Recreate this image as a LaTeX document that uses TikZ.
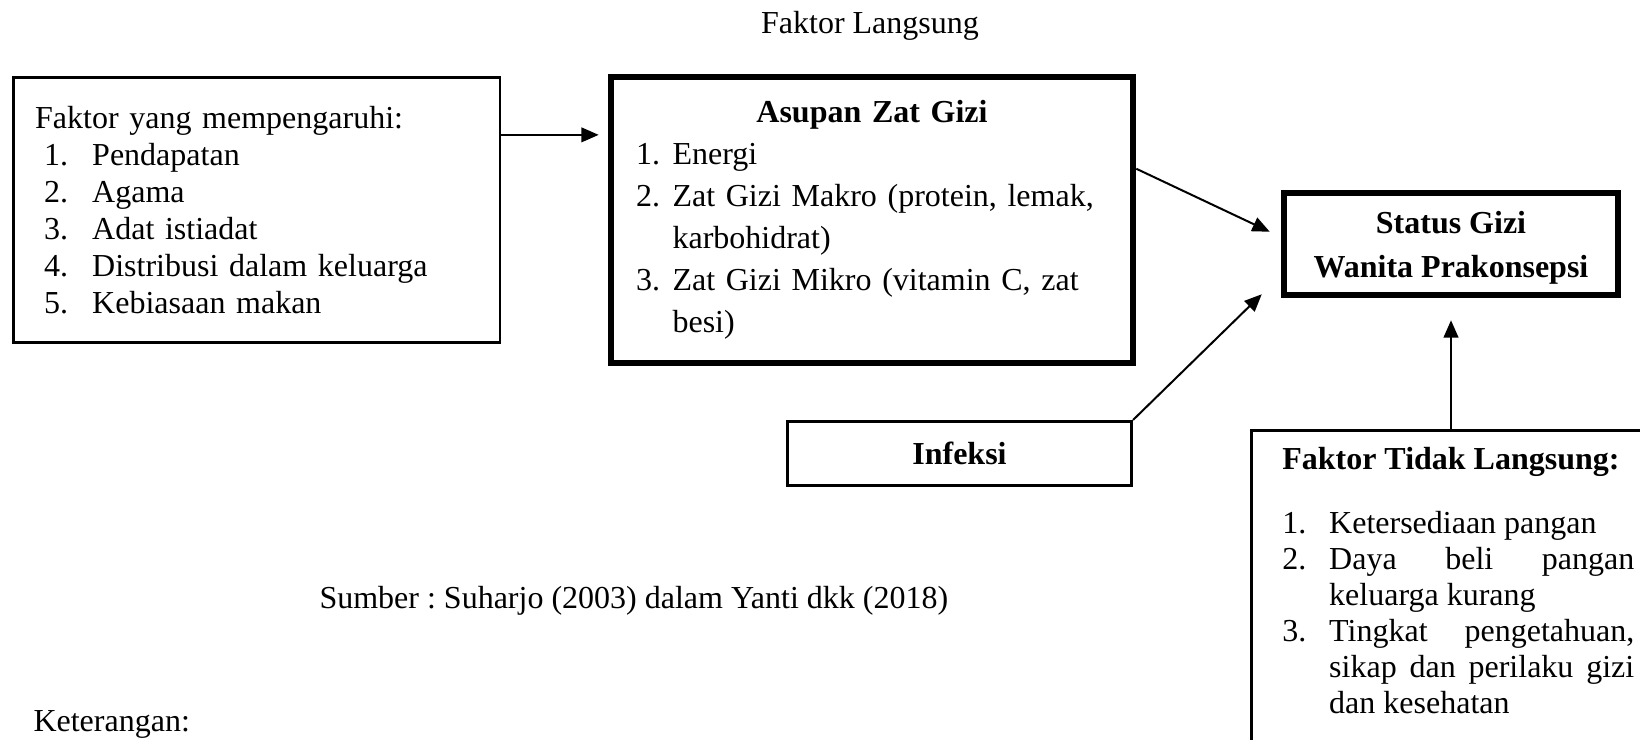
\documentclass[tikz,border=0pt]{standalone}
\usepackage{fontspec}
\setmainfont{Liberation Serif}
\usetikzlibrary{positioning,arrows.meta,calc}
\frenchspacing
\newcommand{\nitem}[4]{\par\hangindent=\dimexpr#1+#2\relax\hangafter=1\noindent\hspace*{#1}\makebox[#2][l]{#3}#4}

\begin{document}
\begin{tikzpicture}[
        x=0.375pt, y=-0.375pt,
        font=\fontsize{12pt}{14pt}\selectfont,
        thinbox/.style={draw, line width=1pt, inner sep=0pt},
        thickbox/.style={draw, line width=2.4pt, inner sep=0pt},
        arr/.style={-{Triangle[length=6.5pt,width=5.5pt]}, line width=0.75pt},
        caption/.style={inner sep=0pt}
    ]
    \useasboundingbox (0,0) rectangle (1640,739);
    \clip (0,0) rectangle (1640,739);

    \node[caption, anchor=base] (judul) at (870,33) {Faktor Langsung};

    % Boxes
    \node[thinbox, minimum width=182.5pt, minimum height=99.6pt, text width=166pt, align=left,
          font=\fontsize{12pt}{13.9pt}\selectfont] (faktor) at (256.5,210)
        {Faktor yang mempengaruhi:
         \nitem{3.4pt}{18pt}{1.}{Pendapatan}
         \nitem{3.4pt}{18pt}{2.}{Agama}
         \nitem{3.4pt}{18pt}{3.}{Adat istiadat}
         \nitem{3.4pt}{18pt}{4.}{Distribusi dalam keluarga}
         \nitem{3.4pt}{18pt}{5.}{Kebiasaan makan}\par};
    \node[thickbox, minimum width=195.8pt, minimum height=107.3pt, text width=177pt, align=left,
          font=\fontsize{12pt}{15.75pt}\selectfont] (asupan) at (872,220)
        {{\centering\bfseries Asupan Zat Gizi\par}
         \nitem{0pt}{13.7pt}{1.}{Energi}
         \nitem{0pt}{13.7pt}{2.}{Zat Gizi Makro (protein, lemak,\newline karbohidrat)}
         \nitem{0pt}{13.7pt}{3.}{Zat Gizi Mikro (vitamin C, zat\newline besi)}\par};
    \node[thickbox, minimum width=125.3pt, minimum height=38.3pt, align=center, text depth=0pt,
          font=\fontsize{12pt}{16.5pt}\selectfont\bfseries] (status) at (1451,244)
        {Status Gizi\\Wanita Prakonsepsi};
    \node[thinbox, minimum width=129.2pt, minimum height=24.2pt,
          font=\fontsize{12pt}{14pt}\selectfont\bfseries] (infeksi) at (959.5,453.5)
        {Infeksi};
    \node[thinbox, anchor=north west, inner xsep=11.6pt, inner ysep=6.4pt, text width=132pt,
          text depth=150pt, align=justify, font=\fontsize{12pt}{13.5pt}\selectfont] (ftl) at (1250,429)
        {{\bfseries Faktor Tidak Langsung:}\par\vspace{10.5pt}
         \nitem{0pt}{17.6pt}{1.}{Ketersediaan pangan}
         \nitem{0pt}{17.6pt}{2.}{Daya beli pangan\linebreak keluarga kurang}
         \nitem{0pt}{17.6pt}{3.}{Tingkat pengetahuan,\linebreak sikap dan perilaku gizi\linebreak dan kesehatan}\par};

    % Arrows
    \draw[arr, shorten >=3.4pt] ($(faktor.north east)+(0,59)$) coordinate (a1) -- (a1 -| asupan.west);
    \draw[arr] ($(asupan.north east)+(0,95)$) -- ($(status.north west)+(-11,42)$);
    \draw[arr] (infeksi.north east) -- ($(status.south west)+(-19,-4)$);
    \draw[arr] (status.south |- ftl.north) -- ($(status.south)+(0,22)$);

    \node[caption, anchor=base west] (sumber) at (319,608) {Sumber : Suharjo (2003) dalam Yanti dkk (2018)};
    \node[caption, anchor=base west] (ket) at (33,731) {Keterangan:};
\end{tikzpicture}
\end{document}
